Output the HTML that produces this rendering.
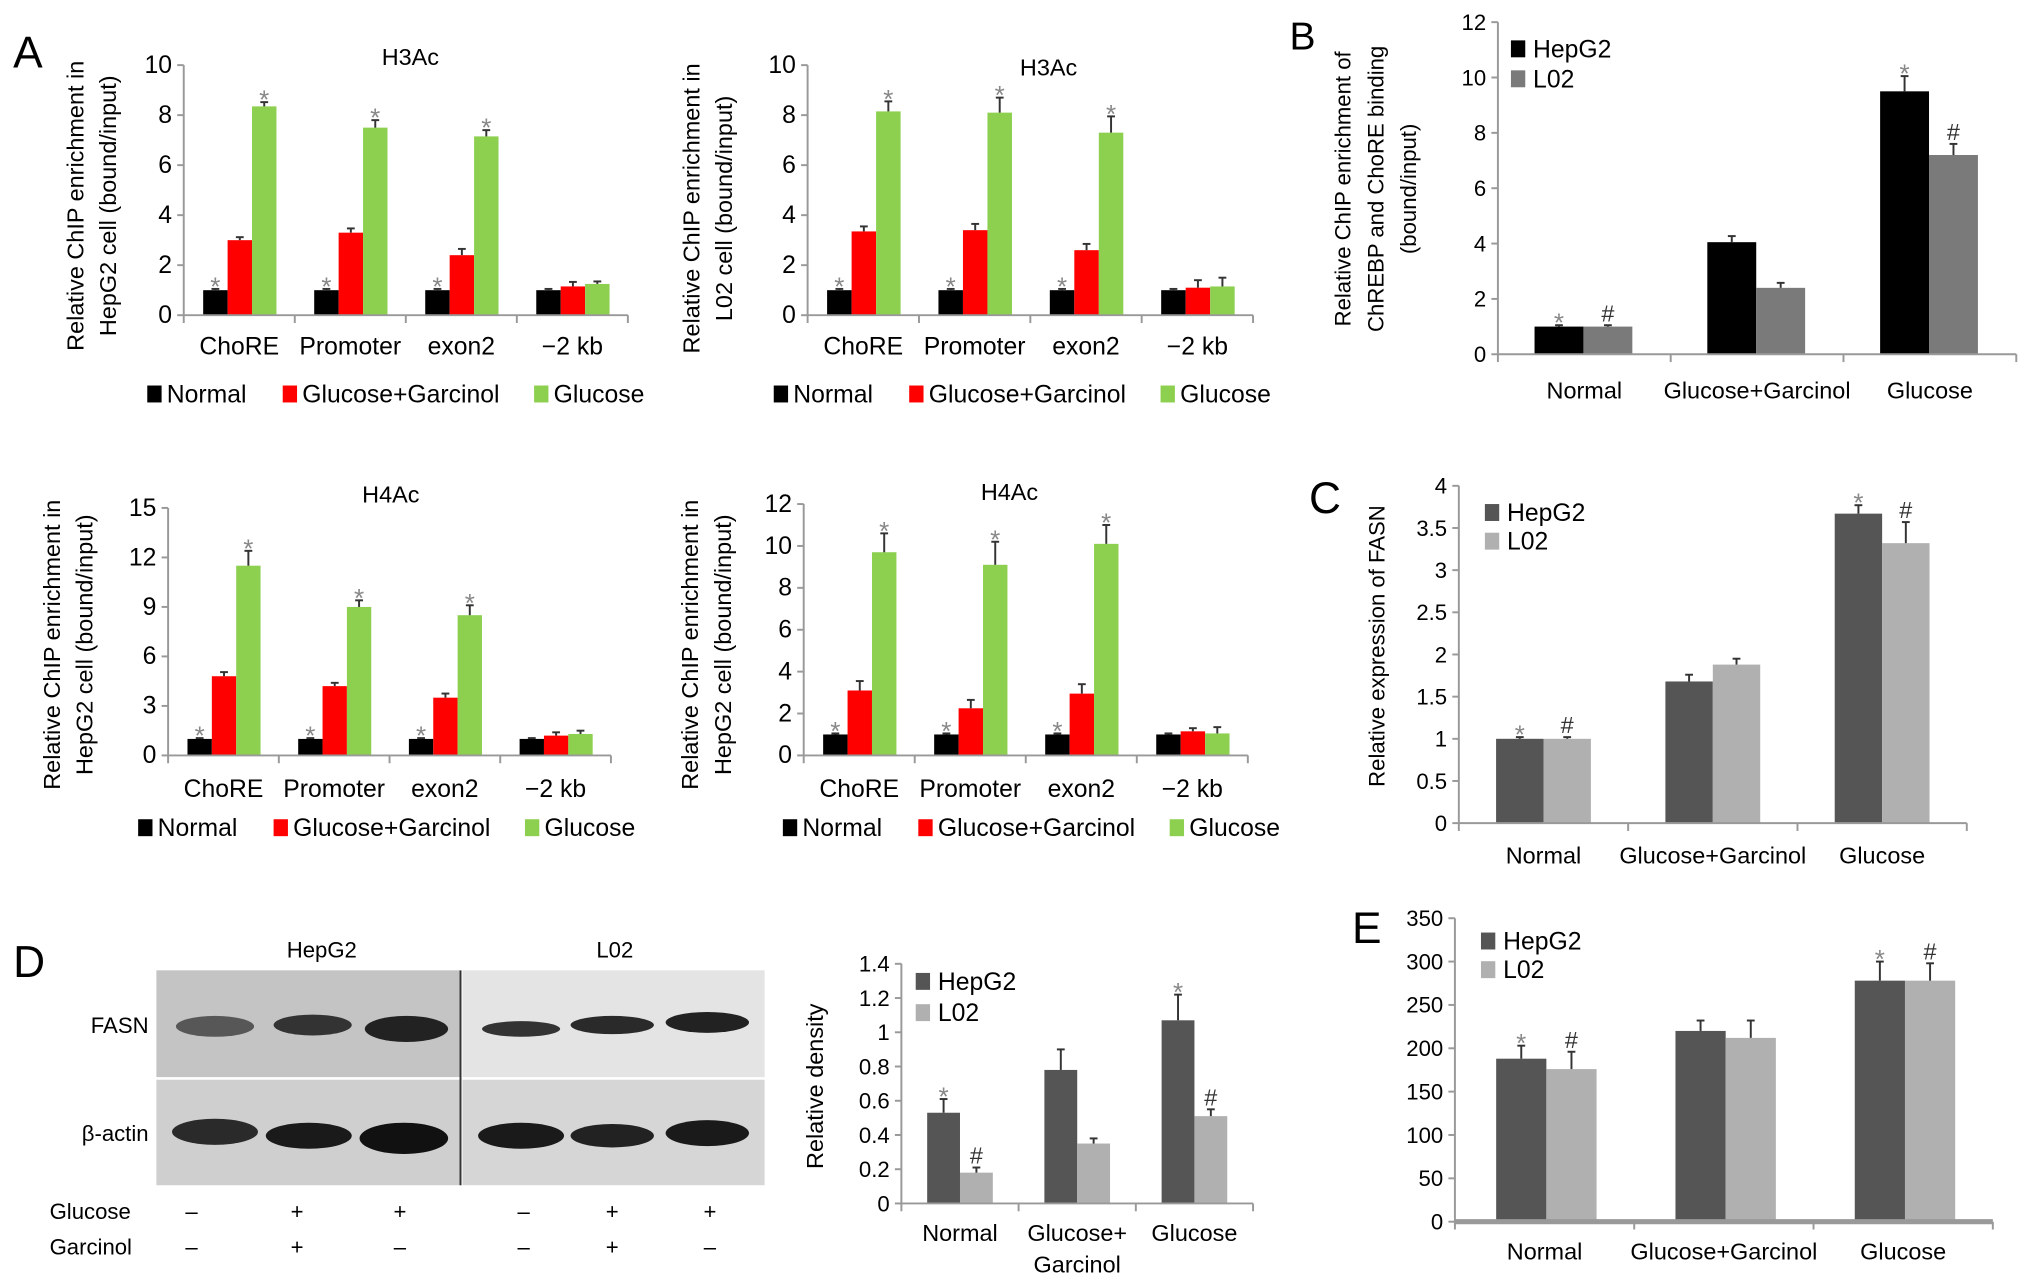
<!DOCTYPE html>
<html><head><meta charset="utf-8">
<style>
html,body{margin:0;padding:0;background:#fff;}
svg{display:block;font-family:"Liberation Sans",sans-serif;}
</style></head>
<body>
<svg id="fig" width="2032" height="1279" viewBox="0 0 1560 982" xmlns="http://www.w3.org/2000/svg">
<rect width="1560" height="982" fill="#fff"/>
<g id="static">
  <text x="10" y="52" font-size="34">A</text>
  <text x="990" y="38" font-size="30">B</text>
  <text x="1005" y="394" font-size="34">C</text>
  <text x="10" y="750" font-size="34">D</text>
  <text x="1038" y="724" font-size="34">E</text>
</g>
<g id="blot">
  <text x="247" y="735" font-size="17" text-anchor="middle">HepG2</text>
  <text x="472" y="735" font-size="17" text-anchor="middle">L02</text>
  <rect x="120" y="745" width="233" height="82" fill="#c4c4c4"/>
  <rect x="355" y="745" width="232" height="82" fill="#e4e4e4"/>
  <rect x="120" y="829" width="233" height="81" fill="#cfcfcf"/>
  <rect x="355" y="829" width="232" height="81" fill="#d6d6d6"/>
  <line x1="353.5" y1="745" x2="353.5" y2="910" stroke="#333" stroke-width="1.5"/>
  <ellipse cx="165" cy="788" rx="30" ry="8" fill="#444" opacity="0.85"/>
  <ellipse cx="240" cy="787" rx="30" ry="8" fill="#333"/>
  <ellipse cx="312" cy="790" rx="32" ry="10" fill="#222"/>
  <ellipse cx="400" cy="790" rx="30" ry="6" fill="#333"/>
  <ellipse cx="470" cy="787" rx="32" ry="7" fill="#2a2a2a"/>
  <ellipse cx="543" cy="785" rx="32" ry="8" fill="#222"/>
  <ellipse cx="165" cy="869" rx="33" ry="10" fill="#2a2a2a"/>
  <ellipse cx="237" cy="872" rx="33" ry="10" fill="#1a1a1a"/>
  <ellipse cx="310" cy="874" rx="34" ry="12" fill="#111"/>
  <ellipse cx="400" cy="872" rx="33" ry="10" fill="#1a1a1a"/>
  <ellipse cx="470" cy="872" rx="32" ry="9" fill="#222"/>
  <ellipse cx="543" cy="870" rx="32" ry="10" fill="#1a1a1a"/>
  <text x="114" y="793" font-size="17" text-anchor="end">FASN</text>
  <text x="114" y="876" font-size="17" text-anchor="end">β-actin</text>
  <text x="38" y="936" font-size="17">Glucose</text>
  <text x="38" y="963" font-size="17">Garcinol</text>
</g>
<g id="charts"></g>
</svg>
<script>
// ---------- DATA ----------
const catsA = ['ChoRE','Promoter','exon2','\u22122 kb'];
const h3HepNormal = [1,1,1,1];
const h3HepGG = [3.0,3.3,2.4,1.15];
const h3HepGlu = [8.35,7.5,7.15,1.25];
const h3HepNormalErr = [0.05,0.05,0.05,0.05];
const h3HepGGErr = [0.12,0.17,0.25,0.18];
const h3HepGluErr = [0.17,0.3,0.25,0.1];
const h3L02Normal = [1,1,1,1];
const h3L02GG = [3.35,3.4,2.6,1.1];
const h3L02Glu = [8.15,8.1,7.3,1.15];
const h3L02NormalErr = [0.05,0.05,0.05,0.05];
const h3L02GGErr = [0.2,0.25,0.25,0.3];
const h3L02GluErr = [0.4,0.6,0.65,0.35];
const h4HepNormal = [1,1,1,1];
const h4HepGG = [4.8,4.2,3.5,1.2];
const h4HepGlu = [11.5,9.0,8.5,1.3];
const h4HepNormalErr = [0.05,0.05,0.05,0.05];
const h4HepGGErr = [0.25,0.2,0.25,0.2];
const h4HepGluErr = [0.9,0.4,0.6,0.2];
const h4L02Normal = [1,1,1,1];
const h4L02GG = [3.1,2.25,2.95,1.15];
const h4L02Glu = [9.7,9.1,10.1,1.05];
const h4L02NormalErr = [0.05,0.05,0.05,0.05];
const h4L02GGErr = [0.45,0.4,0.45,0.15];
const h4L02GluErr = [0.9,1.1,0.9,0.3];
const starsNormal = ['*','*','*',''];
const starsGlu = ['*','*','*',''];
const starsNone = ['','','',''];

const catsB = ['Normal','Glucose+Garcinol','Glucose'];
const bHep = [1.0,4.05,9.5];
const bL02 = [1.0,2.4,7.2];
const bHepErr = [0.05,0.22,0.55];
const bL02Err = [0.05,0.18,0.4];
const cHep = [1.0,1.68,3.67];
const cL02 = [1.0,1.88,3.32];
const cHepErr = [0.02,0.08,0.1];
const cL02Err = [0.02,0.07,0.25];
const dHep = [0.53,0.78,1.07];
const dL02 = [0.18,0.35,0.51];
const dHepErr = [0.08,0.12,0.15];
const dL02Err = [0.03,0.03,0.04];
const eHep = [188,220,278];
const eL02 = [176,212,278];
const eHepErr = [15,12,22];
const eL02Err = [20,20,20];
const marksHep = ['*','','*'];
const marksL02 = ['#','','#'];
const glucoseSigns = ['\u2013','+','+','\u2013','+','+'];
const garcinolSigns = ['\u2013','+','\u2013','\u2013','+','\u2013'];

// ---------- DRAW ----------
const NS = 'http://www.w3.org/2000/svg';
const root = document.getElementById('charts');
function mk(tag, attrs, parent, text){
  const e = document.createElementNS(NS, tag);
  for (const k in attrs) e.setAttribute(k, attrs[k]);
  if (text !== undefined) e.textContent = text;
  (parent||root).appendChild(e);
  return e;
}
function chart(o){
  const g = mk('g', {});
  
  
  const n = o.cats.length;
  const gw = (o.right - o.ax) / n;
  const yS = v => o.ay - (v / o.ymax) * (o.ay - o.top);
  const ya = mk('line', {x1:o.ax, y1:o.top, x2:o.ax, y2:o.ay, stroke:'#999', 'stroke-width':1.5}, g);
  
  
  for (let v = 0; v <= o.ymax + 1e-9; v += o.step){
    const y = yS(v);
    mk('line', {x1:o.ax-5, y1:y, x2:o.ax, y2:y, stroke:'#999', 'stroke-width':1.5}, g);
    const t = mk('text', {x:o.ax-9, y:y+6, 'font-size':o.tfs||17, 'text-anchor':'end'}, g, String(Math.round(v*100)/100));
    
    
  }
  o.series.forEach((s, si) => {
    s.vals.forEach((v, ci) => {
      const x = o.ax + ci*gw + o.off*gw + si*o.bw*gw;
      const w = o.bw*gw;
      const y = yS(v);
      const r = mk('rect', {x:x, y:y, width:w, height:o.ay - y, fill:s.color}, g);
      
      
      const ey = yS(v + s.errs[ci]);
      const cx = x + w/2;
      mk('line', {x1:cx, y1:y, x2:cx, y2:ey, stroke:'#333', 'stroke-width':1.5}, g);
      mk('line', {x1:cx-3, y1:ey, x2:cx+3, y2:ey, stroke:'#333', 'stroke-width':1.5}, g);
      const m = s.marks[ci];
      if (m){
        const st = mk('text', {x:cx, y:ey - 3 + (m==='*'?8:0), 'font-size':m==='*'?20:18, 'text-anchor':'middle', fill:m==='*'?'#888':'#333'}, g, m);
        
        
      }
    });
  });
  const xa = mk('line', {x1:o.ax, y1:o.ay, x2:o.right, y2:o.ay, stroke:'#999', 'stroke-width':o.xw||1.5}, g);
  
  
  for (let i = 0; i <= n; i++){
    const x = o.ax + i*gw;
    mk('line', {x1:x, y1:o.ay, x2:x, y2:o.ay+6, stroke:'#999', 'stroke-width':1.5}, g);
  }
  o.cats.forEach((c, i) => {
    const lines = (o.catLines && o.catLines[i]) || [c];
    lines.forEach((ln, li) => {
      const t = mk('text', {x:o.ax+(i+0.5)*gw, y:o.catY + li*24, 'font-size':o.cfs||19, 'text-anchor':'middle'}, g, ln);
      
      
    });
  });
  if (o.title){
    const t = mk('text', {x:o.title[1], y:o.title[2], 'font-size':18, 'text-anchor':'middle'}, g, o.title[0]);
    
    
  }
  if (o.ylab){
    o.ylab.lines.forEach((ln, li) => {
      const x = o.ylab.x + li*o.ylab.dx;
      const t = mk('text', {x:x, y:o.ylab.y, 'font-size':o.ylab.fs||18, 'text-anchor':'middle', transform:'rotate(-90 '+x+' '+o.ylab.y+')'}, g, ln);
      
      
    });
  }
  if (o.legendH){
    let x = o.legendH.x;
    o.series.forEach((s, si) => {
      mk('rect', {x:x, y:o.legendH.y-13, width:11, height:13, fill:s.color}, g);
      const t = mk('text', {x:x+15, y:o.legendH.y, 'font-size':19}, g, s.label);
      
      
      x += o.legendH.w[si];
    });
  }
  if (o.legendV){
    o.series.forEach((s, si) => {
      const y = o.legendV.y + si*o.legendV.dy;
      mk('rect', {x:o.legendV.x, y:y-13, width:11, height:13, fill:s.color}, g);
      const t = mk('text', {x:o.legendV.x+17, y:y, 'font-size':19}, g, s.label);
      
      
    });
  }
}
const GR = '#8dcf4f', RD = '#ff0000', BK = '#000';
function aSeries(nv, ne, gv, ge, lv, le){
  return [
    {key:'normal', label:'Normal', vals:nv, errs:ne, color:BK, marks:starsNormal},
    {key:'glucose-garcinol', label:'Glucose+Garcinol', vals:gv, errs:ge, color:RD, marks:starsNone},
    {key:'glucose', label:'Glucose', vals:lv, errs:le, color:GR, marks:starsGlu}
  ];
}
const legW = [104, 193, 90];
chart({name:'chart-h3ac-hepg2', ax:141, ay:242, top:50, right:482, ymax:10, step:2, cats:catsA, tfs:19,
  series:aSeries(h3HepNormal,h3HepNormalErr,h3HepGG,h3HepGGErr,h3HepGlu,h3HepGluErr),
  off:0.175, bw:0.22, catY:272, title:['H3Ac',315,50],
  ylab:{lines:['Relative ChIP enrichment in','HepG2 cell (bound/input)'], x:64, dx:25, y:158},
  legendH:{x:113, y:309, w:legW}});
chart({name:'chart-h3ac-l02', ax:620, ay:242, top:50, right:962, ymax:10, step:2, cats:catsA, tfs:19,
  series:aSeries(h3L02Normal,h3L02NormalErr,h3L02GG,h3L02GGErr,h3L02Glu,h3L02GluErr),
  off:0.175, bw:0.22, catY:272, title:['H3Ac',805,58],
  ylab:{lines:['Relative ChIP enrichment in','L02 cell (bound/input)'], x:537, dx:25, y:160},
  legendH:{x:594, y:309, w:legW}});
chart({name:'chart-h4ac-hepg2', ax:129, ay:580, top:390, right:469, ymax:15, step:3, cats:catsA, tfs:19,
  series:aSeries(h4HepNormal,h4HepNormalErr,h4HepGG,h4HepGGErr,h4HepGlu,h4HepGluErr),
  off:0.175, bw:0.22, catY:612, title:['H4Ac',300,386],
  ylab:{lines:['Relative ChIP enrichment in','HepG2 cell (bound/input)'], x:46, dx:25, y:495},
  legendH:{x:106, y:642, w:legW}});
chart({name:'chart-h4ac-l02', ax:617, ay:580, top:387, right:958, ymax:12, step:2, cats:catsA, tfs:19,
  series:aSeries(h4L02Normal,h4L02NormalErr,h4L02GG,h4L02GGErr,h4L02Glu,h4L02GluErr),
  off:0.175, bw:0.22, catY:612, title:['H4Ac',775,384],
  ylab:{lines:['Relative ChIP enrichment in','HepG2 cell (bound/input)'], x:536, dx:25, y:495},
  legendH:{x:601, y:642, w:legW}});
chart({name:'chart-b-chrebp', ax:1150, ay:272, top:17, right:1548, ymax:12, step:2, cats:catsB,
  series:[{key:'hepg2',label:'HepG2',vals:bHep,errs:bHepErr,color:'#000',marks:marksHep},
          {key:'l02',label:'L02',vals:bL02,errs:bL02Err,color:'#7a7a7a',marks:marksL02}],
  off:0.212, bw:0.283, catY:306, cfs:18,
  ylab:{lines:['Relative ChIP enrichment of','ChREBP and ChoRE binding','(bound/input)'], x:1037, dx:25, y:145, fs:17},
  legendV:{x:1160, y:44, dy:23}});
chart({name:'chart-c-fasn', ax:1120, ay:632, top:373, right:1510, ymax:4, step:0.5, cats:catsB,
  series:[{key:'hepg2',label:'HepG2',vals:cHep,errs:cHepErr,color:'#555',marks:marksHep},
          {key:'l02',label:'L02',vals:cL02,errs:cL02Err,color:'#b0b0b0',marks:marksL02}],
  off:0.22, bw:0.28, catY:663, cfs:18,
  ylab:{lines:['Relative expression of FASN'], x:1063, dx:0, y:496, fs:17},
  legendV:{x:1140, y:400, dy:22}});
chart({name:'chart-d-density', ax:692, ay:924, top:740, right:962, ymax:1.4, step:0.2, cats:catsB,
  catLines:[['Normal'],['Glucose+','Garcinol'],['Glucose']],
  series:[{key:'hepg2',label:'HepG2',vals:dHep,errs:dHepErr,color:'#555',marks:marksHep},
          {key:'l02',label:'L02',vals:dL02,errs:dL02Err,color:'#b0b0b0',marks:marksL02}],
  off:0.22, bw:0.28, catY:953, cfs:18,
  ylab:{lines:['Relative density'], x:632, dx:0, y:834, fs:18},
  legendV:{x:703, y:760, dy:24}});
chart({name:'chart-e', ax:1117, ay:938, top:705, right:1530, ymax:350, step:50, cats:catsB,
  series:[{key:'hepg2',label:'HepG2',vals:eHep,errs:eHepErr,color:'#555',marks:marksHep},
          {key:'l02',label:'L02',vals:eL02,errs:eL02Err,color:'#b0b0b0',marks:marksL02}],
  off:0.23, bw:0.28, catY:967, cfs:18, xw:4,
  legendV:{x:1137, y:729, dy:22}});
const signX = [147,228,307,402,470,545];
const blot = document.getElementById('blot');
glucoseSigns.forEach((s,i)=>{
  const t = mk('text', {x:signX[i], y:936, 'font-size':17, 'text-anchor':'middle'}, blot, s);
  
  
});
garcinolSigns.forEach((s,i)=>{
  const t = mk('text', {x:signX[i], y:963, 'font-size':17, 'text-anchor':'middle'}, blot, s);
  
  
});
</script>
</body></html>
